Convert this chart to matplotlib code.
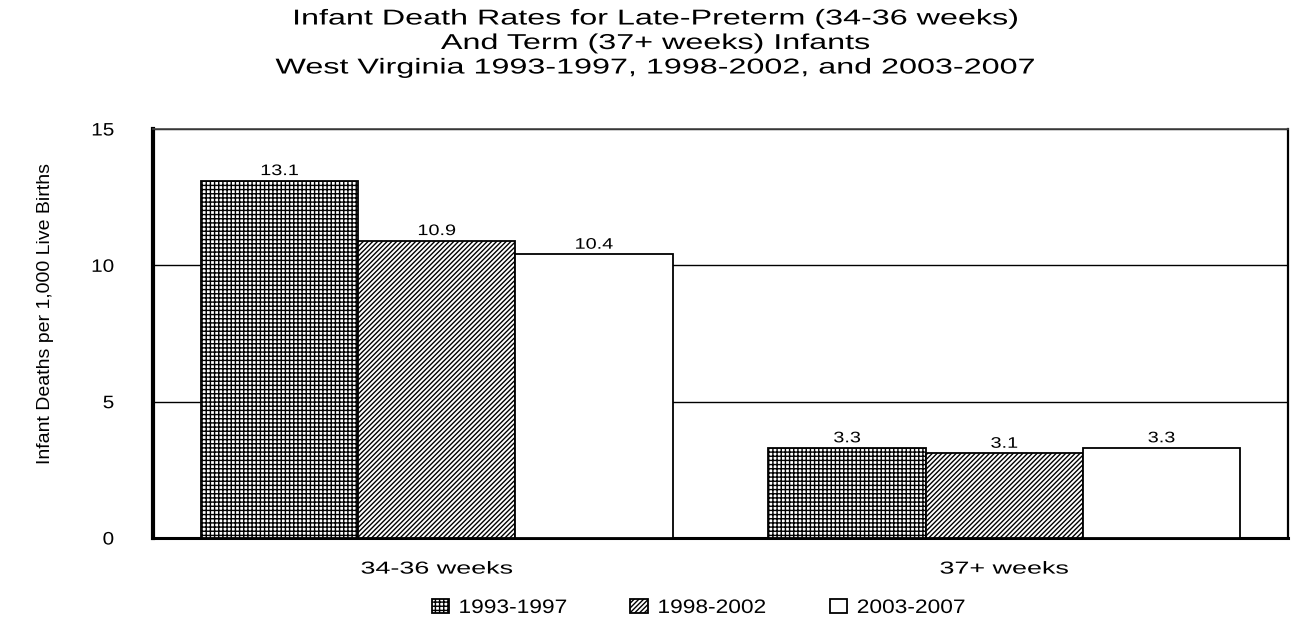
import matplotlib
matplotlib.use("Agg")
import matplotlib.pyplot as plt
import numpy as np
from matplotlib.patheffects import AbstractPathEffect
from matplotlib.transforms import Affine2D

plt.rcParams['font.family'] = ['Liberation Sans', 'DejaVu Sans']
plt.rcParams['hatch.linewidth'] = 1.0

categories = ["34-36 weeks", "37+ weeks"]
periods = ["1993-1997", "1998-2002", "2003-2007"]
rates = {
    "1993-1997": [13.1, 3.3],
    "1998-2002": [10.9, 3.1],
    "2003-2007": [10.4, 3.3],
}
hatches = ["++++", "///////", ""]
yticks = [0, 5, 10, 15]


class HStretch(AbstractPathEffect):
    """Widen glyphs horizontally about a chosen anchor of the drawn text."""

    def __init__(self, factor, anchor="center"):
        super().__init__()
        self.factor = factor
        self.anchor = anchor

    def draw_path(self, renderer, gc, tpath, affine, rgbFace=None):
        ext = tpath.get_extents(affine)
        if self.anchor == "left":
            px = ext.x0
        elif self.anchor == "right":
            px = ext.x1
        else:
            px = 0.5 * (ext.x0 + ext.x1)
        t = affine + Affine2D().translate(-px, 0).scale(self.factor, 1).translate(px, 0)
        renderer.draw_path(gc, tpath, t, rgbFace)


fig = plt.figure(figsize=(13.12, 6.32), dpi=100, facecolor="white")
ax = fig.add_axes([153 / 1312, 1 - 538 / 632, (1288 - 153) / 1312, (538 - 129) / 632])

x = np.arange(len(categories))
width = 0.277
for i, p in enumerate(periods):
    pos = x + (i - 1) * width
    bars = ax.bar(pos, rates[p], width, color="white", edgecolor="black",
                  hatch=hatches[i], linewidth=1.3, label=p, zorder=3)
    for b, v in zip(bars, rates[p]):
        ax.text(b.get_x() + b.get_width() / 2, v + 0.1, f"{v:.1f}",
                ha="center", va="bottom", fontsize=11, zorder=4,
                path_effects=[HStretch(1.3)])

ax.set_xlim(-0.5, 1.5)
ax.set_ylim(0, 15)
ax.set_yticks(yticks)
ax.set_yticklabels([str(t) for t in yticks], fontsize=13)
ax.set_xticks(x)
ax.set_xticklabels(categories, fontsize=12.5)
ax.tick_params(axis="both", length=0)
ax.tick_params(axis="x", pad=17)
ax.tick_params(axis="y", pad=28)
for lbl in ax.get_xticklabels():
    lbl.set_path_effects([HStretch(1.55)])
for lbl in ax.get_yticklabels():
    lbl.set_path_effects([HStretch(1.15, "right")])
ax.yaxis.grid(True, color="black", linewidth=1.0, zorder=0)
ax.set_axisbelow(True)

ax.spines["left"].set_linewidth(3)
ax.spines["bottom"].set_linewidth(2.2)
ax.spines["right"].set_linewidth(1.6)
ax.spines["top"].set_linewidth(1.2)
ax.spines["top"].set_color("#444444")

fig.text(46 / 1312, 1 - 314 / 632, "Infant Deaths per 1,000 Live Births",
         rotation=90, ha="center", va="center", fontsize=14)

title_lines = [
    "Infant Death Rates for Late-Preterm (34-36 weeks)",
    "And Term (37+ weeks) Infants",
    "West Virginia 1993-1997, 1998-2002, and 2003-2007",
]
for k, line in enumerate(title_lines):
    fig.text(655 / 1312, 1 - (19 + 24.5 * k) / 632, line, ha="center", va="center",
             fontsize=15.5, path_effects=[HStretch(1.5)])

leg = fig.legend(loc="center left", bbox_to_anchor=(414 / 1312, 1 - 608 / 632), ncol=3,
                 frameon=False, fontsize=14, handlelength=0.88, handleheight=0.75,
                 handletextpad=0.52, columnspacing=4.05)
for t in leg.get_texts():
    t.set_path_effects([HStretch(1.17, "left")])

fig.savefig("out.png", dpi=100, facecolor=fig.get_facecolor())
